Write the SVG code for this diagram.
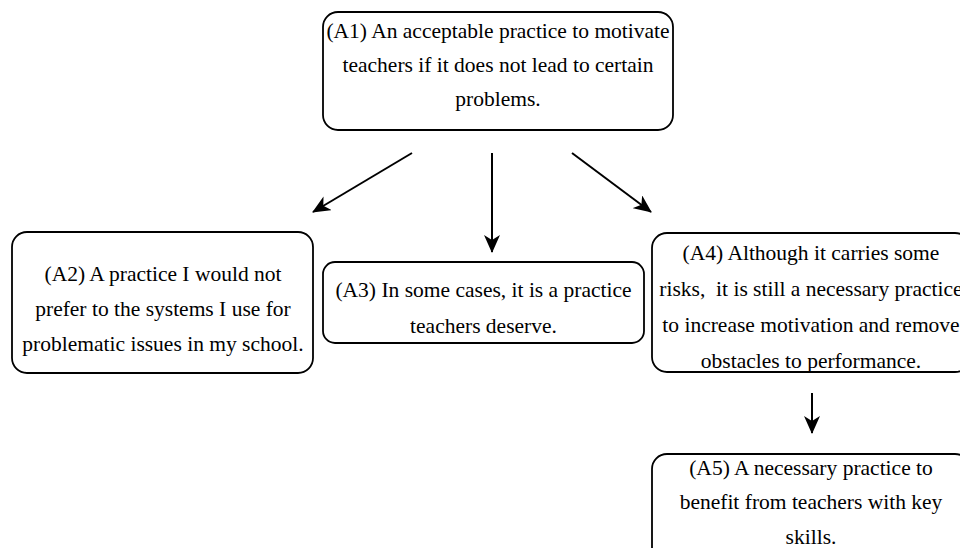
<svg xmlns="http://www.w3.org/2000/svg" width="960" height="548" viewBox="0 0 960 548">
<style>
.box{fill:#fff;stroke:#000;stroke-width:1.8}
.t{font-size:21.5px;fill:#000;text-anchor:middle;white-space:pre}
.c{stroke:#000;stroke-width:2;fill:none;marker-end:url(#ah)}
</style>
<defs>
<marker id="ah" viewBox="0 0 18 16" refX="17" refY="8" markerWidth="18" markerHeight="16" markerUnits="userSpaceOnUse" orient="auto">
<path d="M0,0 L18,8 L0,16 L5,8 Z" fill="#000"/>
</marker>
</defs>
<rect width="960" height="548" fill="#fff"/>
<g id="connectors">
<line class="c" x1="412" y1="153" x2="313" y2="212"/>
<line class="c" x1="492" y1="153" x2="492" y2="252"/>
<line class="c" x1="572" y1="153" x2="651" y2="212"/>
<line class="c" x1="812" y1="393" x2="812" y2="433"/>
</g>
<g id="A1">
<rect class="box" x="323" y="12" width="350" height="118" rx="15"/>
<text class="t" font-family="Liberation Serif" x="498" y="38">(A1) An acceptable practice to motivate</text>
<text class="t" font-family="Liberation Serif" x="498" y="72">teachers if it does not lead to certain</text>
<text class="t" font-family="Liberation Serif" x="498" y="106">problems.</text>
</g>
<g id="A2">
<rect class="box" x="12" y="232" width="301" height="141" rx="15"/>
<text class="t" font-family="Liberation Serif" x="163" y="281">(A2) A practice I would not</text>
<text class="t" font-family="Liberation Serif" x="163" y="316">prefer to the systems I use for</text>
<text class="t" font-family="Liberation Serif" x="163" y="351">problematic issues in my school.</text>
</g>
<g id="A3">
<rect class="box" x="323" y="262" width="321" height="81" rx="12"/>
<text class="t" font-family="Liberation Serif" x="483.5" y="297">(A3) In some cases, it is a practice</text>
<text class="t" font-family="Liberation Serif" x="483.5" y="333">teachers deserve.</text>
</g>
<g id="A4">
<rect class="box" x="652" y="233" width="318" height="139" rx="15"/>
<text class="t" font-family="Liberation Serif" x="811" y="260">(A4) Although it carries some</text>
<text class="t" font-family="Liberation Serif" x="811" y="296">risks,  it is still a necessary practice</text>
<text class="t" font-family="Liberation Serif" x="811" y="332">to increase motivation and remove</text>
<text class="t" font-family="Liberation Serif" x="811" y="368">obstacles to performance.</text>
</g>
<g id="A5">
<rect class="box" x="652" y="454" width="318" height="110" rx="15"/>
<text class="t" font-family="Liberation Serif" x="811" y="475">(A5) A necessary practice to</text>
<text class="t" font-family="Liberation Serif" x="811" y="509">benefit from teachers with key</text>
<text class="t" font-family="Liberation Serif" x="811" y="544">skills.</text>
</g>
</svg>
